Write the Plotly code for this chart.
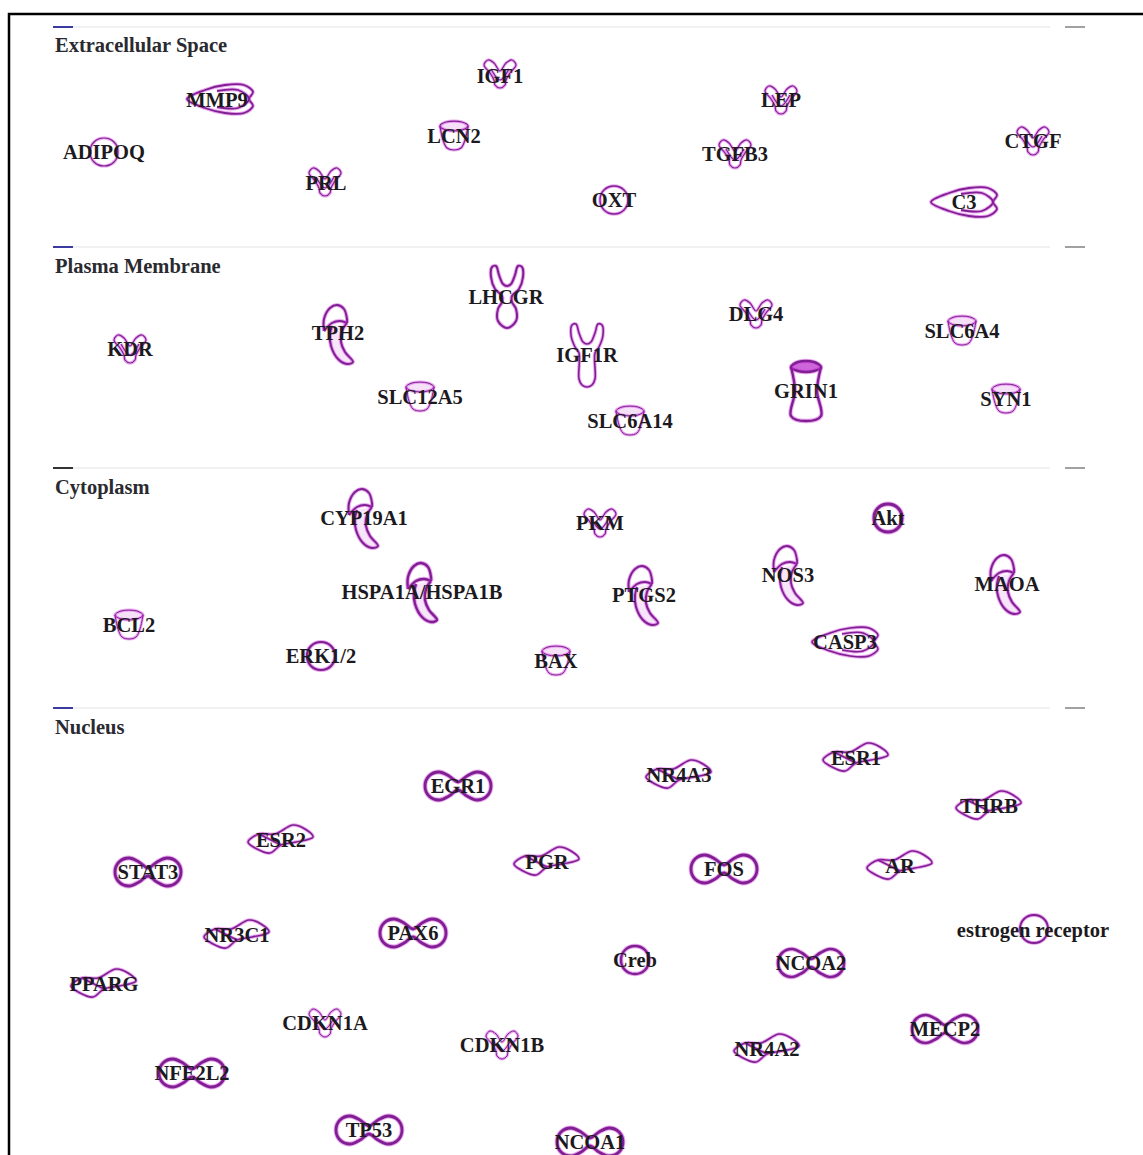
import plotly.graph_objects as go

# ---- data (pixel coordinates of the diagram) ----
section_names = ["Extracellular Space", "Plasma Membrane", "Cytoplasm", "Nucleus"]
section_label_y = [46.5, 267.5, 488.5, 728.5]
section_rule_y = [27, 247, 468, 708]
section_dash_colors = ["#3a3aa0", "#3a3aa0", "#333333", "#3a3aa0"]

node_names = ["ADIPOQ","MMP9","IGF1","LCN2","PRL","LEP","TGFB3","OXT","CTGF","C3",
              "KDR","TPH2","LHCGR","IGF1R","DLG4","SLC6A4","SLC12A5","SLC6A14","GRIN1","SYN1",
              "CYP19A1","PKM","Akt","HSPA1A/HSPA1B","PTGS2","NOS3","MAOA","BCL2","ERK1/2","BAX","CASP3",
              "EGR1","NR4A3","ESR1","THRB","ESR2","STAT3","PGR","FOS","AR","NR3C1","PAX6","Creb","NCOA2",
              "estrogen receptor","PPARG","CDKN1A","CDKN1B","MECP2","NR4A2","NFE2L2","TP53","NCOA1"]
label_x = [104,217,500,454,326,781,735,614,1033,964,
           130,338,506,587,756,962,420,630,806,1006,
           364,600,888,422,644,788,1007,129,321,556,845,
           458,679,856,989,281,148,547,724,900,237,413,635,811,
           1033,104,325,502,945,767,192,369,590]
label_y = [154,102,78,138,185,102,156,202,143,204,
           351,335,299,357,316,333,399,423,393,401,
           520,525,520,594,597,577,586,627,658,663,644,
           788,777,760,808,842,874,864,871,868,937,935,962,965,
           932,986,1025,1047,1031,1051,1075,1132,1144]
glyph_x = [104,220,500,454,325,781,735,614,1033,964,
           130,340,507,587,756,962,420,630,806,1006,
           365,600,888,424,645,790,1007,129,321,556,845,
           458,679,856,989,281,148,547,724,900,237,413,635,811,
           1034,104,325,502,945,767,192,369,590]
glyph_y = [152,99,74,136,182,100,154,200,141,202,
           349,334,297,355,314,331,397,421,391,399,
           518,523,518,592,595,575,584,625,656,661,642,
           786,775,758,806,840,872,862,869,866,935,933,960,963,
           929,984,1023,1045,1029,1049,1073,1130,1142]
glyph_kind = ["circle","drop","cytokine","cup","cytokine","cytokine","cytokine","circle","cytokine","drop",
              "cytokine","enzyme","receptor","receptor2","cytokine","cup","cup","cup","channel","cup",
              "enzyme","cytokine","circle","enzyme","enzyme","enzyme","enzyme","cup","circle","cup","drop",
              "dumbbell","wave","wave","wave","wave","dumbbell","wave","dumbbell","wave","wave","dumbbell","circle","dumbbell",
              "circle","wave","cytokine","cytokine","dumbbell","wave","dumbbell","dumbbell","dumbbell"]
glyph_weight = [1.2,1.8,1.2,1.2,1.2,1.2,1.2,1.4,1.2,1.8,
                1.2,2,2,1.6,1.2,1,1,1,2.4,1,
                2,1.2,3,2.4,2,1.8,2,1,2.2,1,1.6,
                2.8,1.6,1.6,1.6,1.6,2.8,1.6,2.8,1.6,1.6,2.8,2.4,2.6,
                1.8,1.6,1,1,2.6,1.6,2.8,2.8,2.8]

# glyph outlines, relative to a node centre
glyph_paths = {
    "circle": [[(0,-14),(10,-10),(14,0),(10,10),(0,14),(-10,10),(-14,0),(-10,-10),(0,-14)]],
    "cytokine": [[(0,-3),(-6,-11),(-12,-14),(-16,-9),(-10,-1),(-6,6),(-5,11),(0,14),(5,11),(6,6),(10,-1),(16,-9),(12,-14),(6,-11),(0,-3)],
                 [(-9,-5),(0,6),(9,-5)]],
    "cup": [[(-14,-10),(-8,-14),(8,-14),(14,-10),(8,-6),(-8,-6),(-14,-10)],
            [(-14,-10),(-11,4),(-7,12),(0,14),(7,12),(11,4),(14,-10)]],
    "drop": [[(-33,0),(-15,-9),(5,-14),(24,-14),(33,-7),(29,0),(33,7),(24,14),(5,14),(-15,9),(-33,0)],
             [(-3,-8),(18,-9),(29,0),(18,9),(-3,8)]],
    "enzyme": [[(-16,-3),(-16,-15),(-10,-26),(-3,-29),(4,-25),(7,-15),(7,-11)],
               [(-16,-3),(-8,-11),(0,-13),(7,-11)],
               [(7,-11),(2,-3),(1,8),(5,18),(13,28),(7,30),(-2,25),(-9,12),(-10,0),(-8,-8)]],
    "receptor": [[(-8,-22),(-4,-13),(0,-11),(4,-13),(8,-22),(11,-31),(15,-30),(16,-20),(12,-8),(5,-1),(5,5),(9,12),(9,24),(0,31),
                  (-9,24),(-9,12),(-5,5),(-5,-1),(-12,-8),(-16,-20),(-15,-30),(-11,-31),(-8,-22)]],
    "receptor2": [[(-8,-22),(-4,-13),(0,-11),(4,-13),(8,-22),(11,-31),(15,-30),(16,-20),(12,-8),(8,-2),(8,24),(5,30),(0,32),
                   (-5,30),(-8,24),(-8,-2),(-12,-8),(-16,-20),(-15,-30),(-11,-31),(-8,-22)]],
    "channel": [[(-15,-24),(-8,-29),(8,-29),(15,-24),(8,-20),(-8,-20),(-15,-24)],
                [(-15,-24),(-11,0),(-15,25),(0,30),(15,25),(11,0),(15,-24)]],
    "dumbbell": [[(0,-4),(-9,-10),(-19,-14),(-29,-10),(-33,0),(-29,10),(-19,14),(-9,10),(0,4),(9,10),(19,14),(29,10),(33,0),(29,-10),(19,-14),(9,-10),(0,-4)]],
    "wave": [[(-33,2),(-22,-6),(-6,-6),(12,-15),(24,-11),(32,-3),(15,2),(0,5),(-11,13),(-24,9),(-33,2)],
             [(-22,-6),(-8,1),(0,5)]],
}
glyph_fill_index = {"cup": 0, "channel": 0, "enzyme": 2}
fill_alpha = {"cup": 0.15, "channel": 0.75, "enzyme": 0.12}

FONT = "Liberation Serif"
fig = go.Figure()

# section rules and their end dashes
for y, dash_color in zip(section_rule_y, section_dash_colors):
    fig.add_trace(go.Scatter(x=[73, 1050], y=[y, y], mode="lines", line=dict(color="#f1f1f4", width=2), hoverinfo="skip"))
    fig.add_trace(go.Scatter(x=[53, 73], y=[y, y], mode="lines", line=dict(color=dash_color, width=2), hoverinfo="skip"))
    fig.add_trace(go.Scatter(x=[1065, 1085], y=[y, y], mode="lines", line=dict(color="#8a8a8a", width=1.6), hoverinfo="skip"))

# glyphs
for kind, gx, gy, w in zip(glyph_kind, glyph_x, glyph_y, glyph_weight):
    for i, path in enumerate(glyph_paths[kind]):
        xs = [gx + p[0] for p in path]
        ys = [gy + p[1] for p in path]
        if glyph_fill_index.get(kind) == i:
            fig.add_trace(go.Scatter(x=xs, y=ys, mode="lines", fill="toself",
                                     fillcolor=f"rgba(190,50,205,{fill_alpha[kind]})",
                                     line=dict(width=0, shape="spline"), hoverinfo="skip"))
        fig.add_trace(go.Scatter(x=xs, y=ys, mode="lines", hoverinfo="skip",
                                 line=dict(color="rgba(210,60,225,0.45)", width=w + 2, shape="spline", smoothing=1.0)))
        fig.add_trace(go.Scatter(x=xs, y=ys, mode="lines", hoverinfo="skip",
                                 line=dict(color="#7f1f92", width=w, shape="spline", smoothing=1.0)))

# node labels
fig.add_trace(go.Scatter(x=label_x, y=label_y, mode="text", text=[f"<b>{n}</b>" for n in node_names],
                         textposition="middle center", hoverinfo="skip",
                         textfont=dict(family=FONT, size=20.5, color="#1c1a20")))
# section labels
fig.add_trace(go.Scatter(x=[55] * len(section_names), y=section_label_y, mode="text",
                         text=[f"<b>{n}</b>" for n in section_names], textposition="middle right", hoverinfo="skip",
                         textfont=dict(family=FONT, size=20.5, color="#2a2a30")))

fig.update_layout(
    width=1143, height=1155, margin=dict(l=0, r=0, t=0, b=0), showlegend=False,
    paper_bgcolor="white", plot_bgcolor="white",
    xaxis=dict(range=[0, 1143], visible=False, fixedrange=True),
    yaxis=dict(range=[1155, 0], visible=False, fixedrange=True),
    shapes=[dict(type="rect", xref="x", yref="y", x0=9, x1=1165, y0=14, y1=1175,
                 line=dict(color="black", width=2.5), layer="above")],
)
fig.write_html("out.html", post_script="document.body.style.margin='0';", config={"displayModeBar": False})
